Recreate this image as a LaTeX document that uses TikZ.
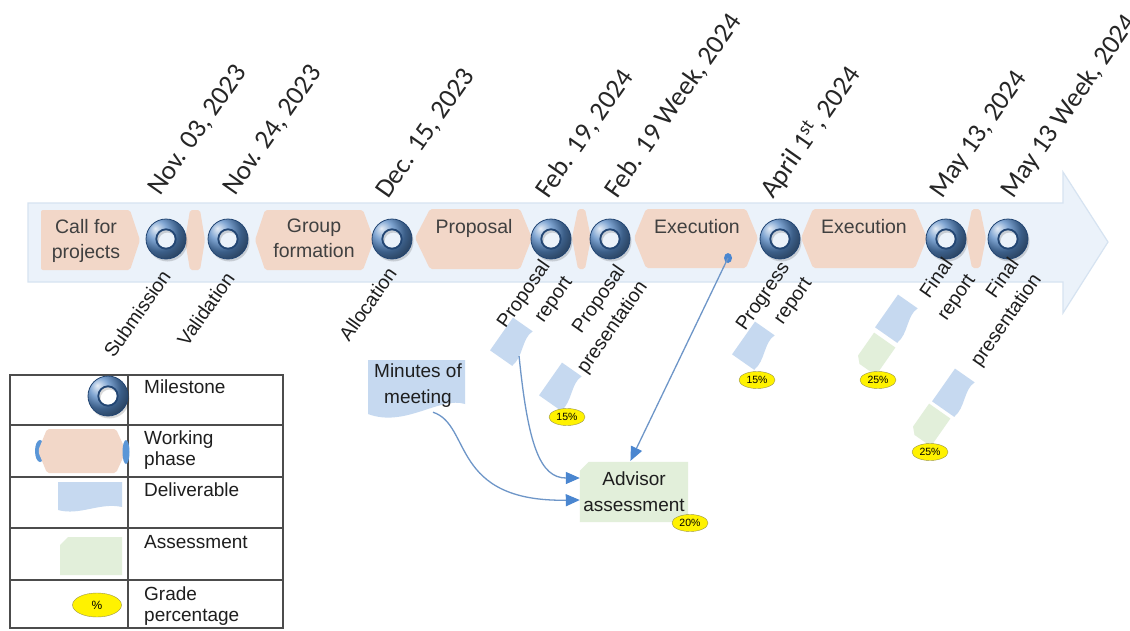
\documentclass[tikz,border=0pt]{standalone}
\usepackage{fontspec}
\setmainfont{Liberation Sans}
\newfontfamily\datefont{Carlito}
\usetikzlibrary{arrows.meta,shapes.geometric}
\pgfdeclarelayer{bg}
\pgfsetlayers{bg,main}
\definecolor{delivfill}{RGB}{198,217,240}
\definecolor{assessfill}{RGB}{226,239,218}
\definecolor{phasefill}{RGB}{242,215,200}
\definecolor{bandfill}{RGB}{235,242,250}
\definecolor{bandedge}{RGB}{214,227,241}
\definecolor{connblue}{RGB}{110,150,200}
\definecolor{headblue}{RGB}{74,134,208}
\definecolor{ringblue}{RGB}{85,135,195}
\definecolor{ringdark}{RGB}{35,70,115}
\definecolor{txtgray}{RGB}{64,64,64}
\definecolor{txtdark}{RGB}{30,30,30}
\definecolor{lensblue}{RGB}{90,150,215}
\tikzset{
  bandtxt/.style={font=\fontsize{19.5}{25}\selectfont, text=txtgray, align=center, inner sep=0pt},
  lbl/.style={font=\fontsize{19.5}{27}\selectfont, rotate=55, anchor=north east, align=right, inner sep=0pt, text=txtdark},
  datelbl/.style={font=\datefont\fontsize{27}{31}\selectfont, rotate=55, anchor=base west, inner sep=0pt, text=black!85},
  pct/.style={ellipse, fill=yellow, draw=yellow!55!black, line width=0.4pt, minimum width=36pt, minimum height=17pt, inner sep=0pt, font=\fontsize{10.5}{12}\selectfont},
  legtxt/.style={font=\fontsize{19}{21}\selectfont, anchor=north west, align=left, inner sep=0pt, text=txtdark},
  boxtxt/.style={font=\fontsize{19}{26}\selectfont, align=center, inner sep=0pt, text=txtdark},
  conn/.style={draw=connblue, line width=1.3pt, -{Triangle[length=14pt,width=12pt,color=headblue]}},
  phase/.style={fill=phasefill, rounded corners=2pt},
  legline/.style={draw=black!70, line width=1.1pt},
  pics/ring/.style={code={
    \fill[black,opacity=0.15,even odd rule] (1.5,2.5) circle[radius=20] (1.5,2.5) circle[radius=9];
    \begin{scope}[even odd rule]
      \clip (0,0) circle[radius=20] (0,0) circle[radius=9];
      \shade[ball color=ringblue] (0,0) circle[radius=27];
    \end{scope}
    \draw[ringdark,line width=0.8pt] (0,0) circle[radius=20];
    \draw[ringdark,line width=1.8pt] (0,0) circle[radius=9.7];
    \coordinate (-c) at (0,0);
  }},
  pics/deliv/.style={code={
    \fill[delivfill] (-20,-14) -- (20,-14) -- (20,10) .. controls (8,5) and (-6,17) .. (-20,13) -- cycle;
    \coordinate (-c) at (0,0);
    \coordinate (-out) at (-8,13);
  }},
  pics/assess/.style={code={
    \fill[assessfill] (-11,-13) -- (17,-13) -- (17,13) -- (-17,13) -- (-17,-7) -- cycle;
    \coordinate (-c) at (0,0);
  }}
}
\begin{document}
\begin{tikzpicture}[x=1pt,y=-1pt]
\useasboundingbox (0,0) rectangle (1130,630);
\begin{pgfonlayer}{bg}
\fill[white] (0,0) rectangle (1130,630);
\end{pgfonlayer}

% timeline arrow band
\draw[fill=bandfill, draw=bandedge, line width=1.2pt] (28,203) -- (1063,203) -- (1063,172) -- (1108,242) -- (1063,313) -- (1063,282) -- (28,282) -- cycle;

% working phases
\fill[phase] (41,210) -- (130,210) -- (140,240) -- (130,270) -- (41,270) -- cycle;
\fill[phase] (185,240) -- (190,210) -- (200,210) -- (205,240) -- (200,270) -- (190,270) -- cycle;
\fill[phase] (255,240) -- (265,210) -- (363,210) -- (374,240) -- (363,270) -- (265,270) -- cycle;
\fill[phase] (415,238) -- (430,209) -- (520,209) -- (532,238) -- (520,269) -- (430,269) -- cycle;
\fill[phase] (572,238) -- (578,209) -- (585,209) -- (591,238) -- (585,269) -- (578,269) -- cycle;
\fill[phase] (634,238) -- (646,209) -- (746,209) -- (758,238) -- (746,268) -- (646,268) -- cycle;
\fill[phase] (801,238) -- (813,209) -- (915,209) -- (927,238) -- (915,268) -- (813,268) -- cycle;
\fill[phase] (966,238) -- (972,209) -- (980,209) -- (986,238) -- (980,268) -- (972,268) -- cycle;

\node[bandtxt] (tcall) at (86,241) {Call for\\projects};
\node[bandtxt] (tgroup) at (314,238) {Group\\formation};
\node[bandtxt] (tprop) at (474,228) {Proposal};
\node[bandtxt] (texec1) at (697,227) {Execution};
\node[bandtxt] (texec2) at (864,227) {Execution};

% milestones
\pic (m1) at (166,239) {ring};
\pic (m2) at (228,239) {ring};
\pic (m3) at (392,239) {ring};
\pic (m4) at (551,239) {ring};
\pic (m5) at (610,239) {ring};
\pic (m6) at (780,239) {ring};
\pic (m7) at (946,239) {ring};
\pic (m8) at (1008,239) {ring};

% dates
\node[datelbl] (d1) at (160,197) {Nov. 03, 2023};
\node[datelbl] (d2) at (235,197) {Nov. 24, 2023};
\node[datelbl] (d3) at (388,200) {Dec. 15, 2023};
\node[datelbl] (d4) at (548,200) {Feb. 19, 2024};
\node[datelbl] (d5) at (617,200) {Feb. 19 Week, 2024};
\node[datelbl] (d6) at (773,200) {April 1\textsuperscript{st}, 2024};
\node[datelbl] (d7) at (942,200) {May 13, 2024};
\node[datelbl] (d8) at (1013,200) {May 13 Week, 2024};

% milestone labels
\node[lbl] (lsub) at (160,268) {Submission};
\node[lbl] (lval) at (224,270) {Validation};
\node[lbl] (lall) at (386,265) {Allocation};
\node[lbl] (lprr) at (539,258) {Proposal\\report};
\node[lbl] (lprp) at (614,263) {Proposal\\presentation};
\node[lbl] (lpgr) at (779,260) {Progress\\report};
\node[lbl] (lfr) at (942,256) {Final\\report};
\node[lbl] (lfp) at (1008,256) {Final\\presentation};

% deliverables and assessments
\pic[rotate=55] (prd) at (513,342) {deliv};
\pic[rotate=55] (ppd) at (562,387) {deliv};
\pic[rotate=55] (pgd) at (755,346) {deliv};
\pic[rotate=55] (frd) at (898,319) {deliv};
\pic[rotate=55] (fra) at (875,354) {assess};
\pic[rotate=55] (fpd) at (955,393) {deliv};
\pic[rotate=55] (fpa) at (930,425) {assess};

\node[pct] (p1) at (567,417) {15\%};
\node[pct] (p2) at (757,380) {15\%};
\node[pct] (p3) at (878,380) {25\%};
\node[pct] (p4) at (930,452) {25\%};

% minutes of meeting
\node[boxtxt, minimum width=97pt, minimum height=52pt] (mom) at (418,386) {Minutes of\\meeting};
\begin{pgfonlayer}{bg}
\fill[delivfill] (368,360) -- (465,360) -- (465,404) .. controls (440,396) and (405,428) .. (368,414) -- cycle;
\end{pgfonlayer}

% advisor assessment
\node[boxtxt, minimum width=108pt, minimum height=60pt] (adv) at (634,492) {Advisor\\assessment};
\begin{pgfonlayer}{bg}
\fill[assessfill] ([xshift=9pt]adv.north west) -- (adv.north east) -- (adv.south east) -- (adv.south west) -- ([yshift=-9pt]adv.north west) -- cycle;
\end{pgfonlayer}
\node[pct] (p5) at (690,523) {20\%};

% connectors
\coordinate (execdot) at (728,258);
\fill[headblue] (execdot) ellipse[x radius=4, y radius=5];
\draw[conn, shorten >=1pt] (execdot) -- ([xshift=-4pt]adv.north);
\draw[conn] (prd-out) .. controls (528,445) and (540,478) .. ([yshift=14pt]adv.west);
\draw[conn] ([xshift=15pt]mom.south) .. controls (472,425) and (450,502) .. ([yshift=-8pt]adv.west);

% legend
\draw[legline] (10,375) rectangle (283,628);
\draw[legline] (10,425) -- (283,425);
\draw[legline] (10,477) -- (283,477);
\draw[legline] (10,528) -- (283,528);
\draw[legline] (10,580) -- (283,580);
\draw[legline] (128,375) -- (128,628);

\pic (lgring) at (108,396) {ring};
\fill[lensblue] (40,451) ellipse[x radius=5, y radius=11];
\fill[phase] (38,451) -- (47,429) -- (116,429) -- (126,451) -- (116,473) -- (47,473) -- cycle;
\fill[lensblue] (126,452) ellipse[x radius=3.5, y radius=12];
\fill[delivfill] (58,482) -- (122,482) -- (122,507) .. controls (100,502) and (80,516) .. (58,510) -- cycle;
\fill[assessfill] (68,537) -- (122,537) -- (122,575) -- (60,575) -- (60,545) -- cycle;
\node[pct, minimum width=49pt, minimum height=24pt, font=\fontsize{12}{14}\selectfont] (lgpct) at (97,605) {\%};

\node[legtxt] (lg1) at (144,380) {Milestone};
\node[legtxt] (lg2) at (144,431) {Working\\phase};
\node[legtxt] (lg3) at (144,483) {Deliverable};
\node[legtxt] (lg4) at (144,535) {Assessment};
\node[legtxt] (lg5) at (144,587) {Grade\\percentage};
\end{tikzpicture}
\end{document}
